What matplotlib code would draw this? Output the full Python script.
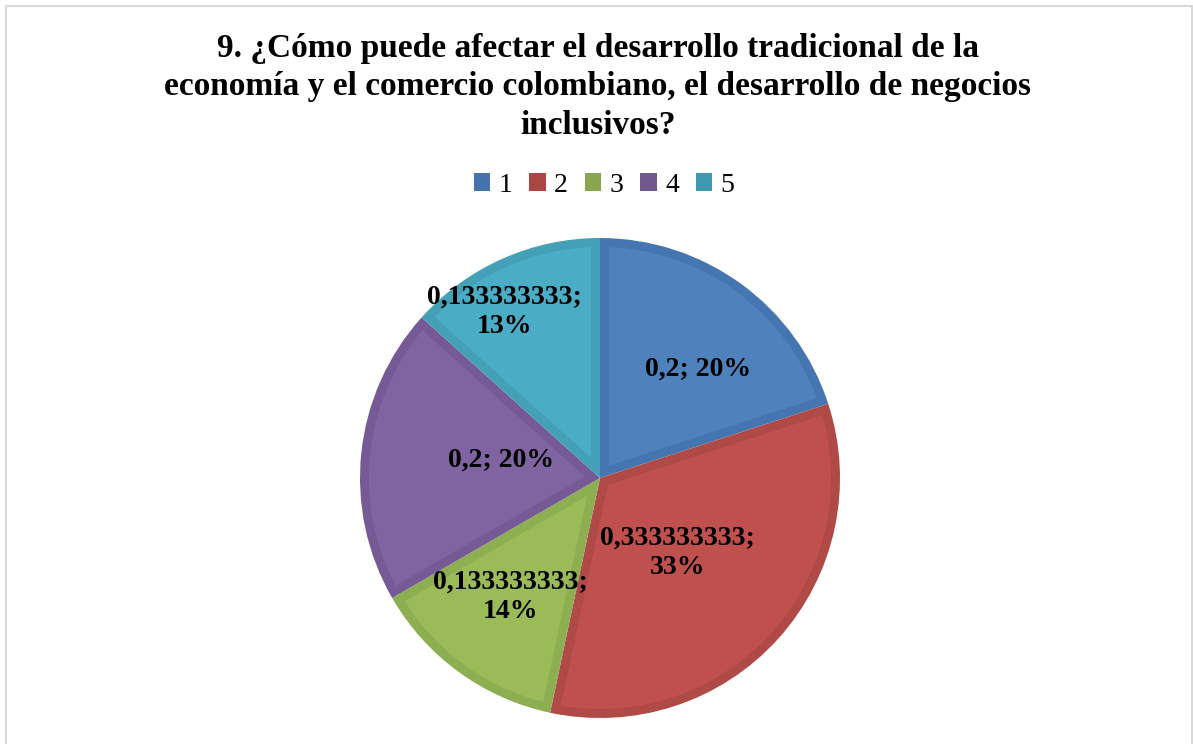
import matplotlib
matplotlib.use("Agg")
import matplotlib.pyplot as plt
from matplotlib.patches import Polygon
import numpy as np

categories = ["1", "2", "3", "4", "5"]
values = [0.2, 0.333333333, 0.133333333, 0.2, 0.133333333]
value_labels = ["0,2", "0,333333333", "0,133333333", "0,2", "0,133333333"]
pct_labels = ["20%", "33%", "14%", "20%", "13%"]
title = ("9. ¿Cómo puede afectar el desarrollo tradicional de la\n"
         "economía y el comercio colombiano, el desarrollo de negocios\n"
         "inclusivos?")

fill_colors = ["#4F81BD", "#C0504D", "#9BBB59", "#8064A2", "#4BACC6"]
edge_colors = ["#4576B1", "#B04A47", "#8EAE52", "#755A95", "#44A0B7"]
legend_colors = ["#4672AE", "#AA4643", "#89A54E", "#71588F", "#4198AF"]

plt.rcParams["font.family"] = ["Liberation Serif", "DejaVu Serif"]

W, H = 1193, 744
fig = plt.figure(figsize=(W / 100, H / 100), dpi=100)

# figure frame
fig.patches.append(plt.Rectangle((6.5 / W, -0.01), (1192 - 6.5) / W, 1 - 5.5 / H + 0.01,
                                 transform=fig.transFigure, fill=False,
                                 edgecolor="#D9D9D9", linewidth=1.5))

# pie axes: center (600,478), radius 240 px
cx, cy, r = 600, 478, 240
ax = fig.add_axes([(cx - r) / W, 1 - (cy + r) / H, 2 * r / W, 2 * r / H])
wedges, _ = ax.pie(values, startangle=90, counterclock=False, colors=edge_colors,
                   radius=1.0, wedgeprops=dict(linewidth=0))


def inner_polygon(theta1, theta2, R, d, n=120):
    t1, t2 = np.deg2rad(theta1), np.deg2rad(theta2)
    half = (t2 - t1) / 2
    bis = (t1 + t2) / 2
    s = d / np.sin(half)
    apex = s * np.array([np.cos(bis), np.sin(bis)])
    Ri = R - d

    def hit(t):
        u = np.array([np.cos(t), np.sin(t)])
        b = apex @ u
        c = apex @ apex - Ri ** 2
        tt = -b + np.sqrt(b * b - c)
        p = apex + tt * u
        return np.arctan2(p[1], p[0])

    a1 = hit(t1)
    a2 = hit(t2)
    if a2 < a1:
        a2 += 2 * np.pi
    arc = np.linspace(a1, a2, n)
    pts = [apex] + [Ri * np.array([np.cos(a), np.sin(a)]) for a in arc]
    return np.array(pts)


border = 9 / r
for w, fc in zip(wedges, fill_colors):
    poly = inner_polygon(w.theta1, w.theta2, w.r, border)
    ax.add_patch(Polygon(poly, closed=True, facecolor=fc, edgecolor="none"))

ax.set_xlim(-1, 1)
ax.set_ylim(-1, 1)
ax.set_aspect("equal")
ax.axis("off")

# data labels
label_dist = [0.61, 0.45, 0.62, 0.42, 0.80]
angle_shift = [-6, -2, -1, -4, 6]
one_line = [True, False, False, True, False]
for i, w in enumerate(wedges):
    mid = np.deg2rad((w.theta1 + w.theta2) / 2 + angle_shift[i])
    x = label_dist[i] * np.cos(mid)
    y = label_dist[i] * np.sin(mid)
    sep = " " if one_line[i] else "\n"
    txt = f"{value_labels[i]};{sep}{pct_labels[i]}"
    ax.text(x, y, txt, ha="center", va="center", fontsize=20, fontweight="bold",
            linespacing=1.25, color="black")

# title
fig.text(598 / W, 1 - 87 / H, title, ha="center", va="center", fontsize=24,
         fontweight="bold", linespacing=1.3)

# legend
handles = [plt.Rectangle((0, 0), 1, 1, facecolor=c, edgecolor="none") for c in legend_colors]
fig.legend(handles, categories, loc="center", bbox_to_anchor=(604 / W, 1 - 185 / H),
           ncol=5, frameon=False, fontsize=20, handlelength=0.6, handleheight=0.6,
           handletextpad=0.3, columnspacing=0.6)

fig.savefig("out.png", dpi=100)
